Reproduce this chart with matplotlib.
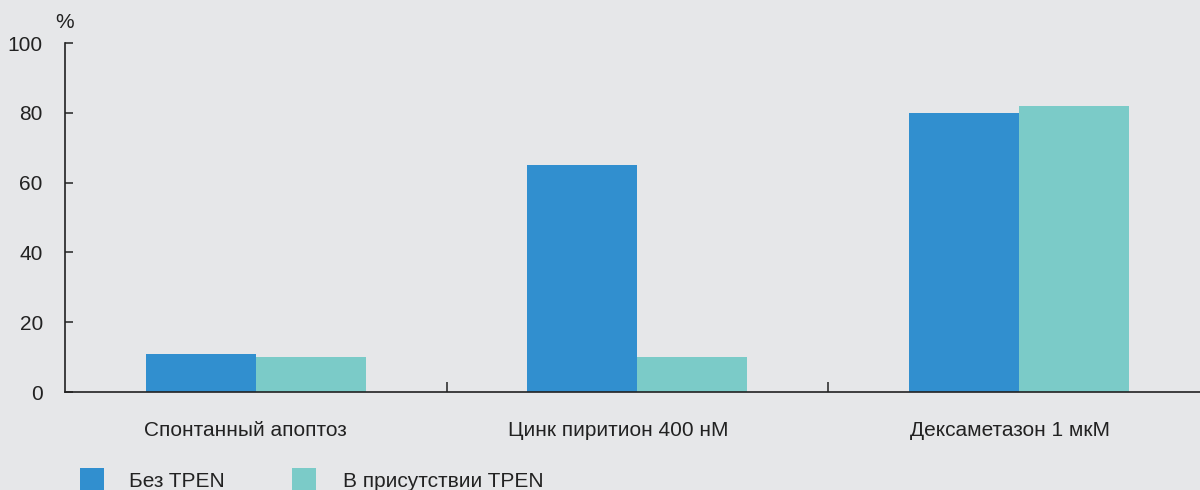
import matplotlib
matplotlib.use("Agg")
import matplotlib.pyplot as plt
from matplotlib.patches import Rectangle
from matplotlib.transforms import ScaledTranslation
import numpy as np

categories = ["Спонтанный апоптоз", "Цинк пиритион 400 нМ", "Дексаметазон 1 мкМ"]
series_names = ["Без TPEN", "В присутствии TPEN"]
without_tpen = [11, 65, 80]
with_tpen = [10, 10, 82]
y_ticks = [0, 20, 40, 60, 80, 100]

BG = "#e6e7e9"
INK = "#222222"
colors = ["#318fcf", "#7bcbc8"]

plt.rcParams["font.family"] = ["Liberation Sans", "DejaVu Sans"]

fig = plt.figure(figsize=(12, 4.9), dpi=100, facecolor=BG)
ax = fig.add_axes([65 / 1200, 1 - 392 / 490, 1 - 65 / 1200, 349 / 490])
ax.set_facecolor(BG)

n = len(categories)
centers = np.arange(n) + 0.5
bw = 0.288
ax.bar(centers - bw / 2, without_tpen, width=bw, color=colors[0], label=series_names[0], zorder=2)
ax.bar(centers + bw / 2, with_tpen, width=bw, color=colors[1], label=series_names[1], zorder=2)

ax.set_xlim(0, (1200 - 65) / 381.5)
ax.set_ylim(0, 100)

for side in ("top", "right"):
    ax.spines[side].set_visible(False)
for side in ("left", "bottom"):
    ax.spines[side].set_color(INK)
    ax.spines[side].set_linewidth(1.2)

ax.set_yticks(y_ticks)
ax.tick_params(axis="y", direction="in", length=6, width=1.1, color=INK,
               labelsize=15, labelcolor=INK, pad=16)

# group separators as short inward ticks
ax.set_xticks(np.arange(1, n))
ax.set_xticklabels([])
ax.tick_params(axis="x", which="major", direction="in", length=7, width=1.1, color=INK)

# category names, right-aligned a fixed distance before each group's right edge
shift = ScaledTranslation(-1.0, -0.44, fig.dpi_scale_trans)
for i, name in enumerate(categories):
    ax.text(i + 1, 0, name, transform=ax.get_xaxis_transform() + shift,
            ha="right", va="baseline", fontsize=15, color=INK)

fig.text(65 / 1200, 1 - 23 / 490, "%", ha="center", va="center", fontsize=15, color=INK)

# legend
sq_w, sq_h = 24 / 1200, 24 / 490
leg_x = [80 / 1200, 292 / 1200]
txt_x = [129 / 1200, 343 / 1200]
for i, name in enumerate(series_names):
    fig.add_artist(Rectangle((leg_x[i], 1 - 492 / 490), sq_w, sq_h,
                             transform=fig.transFigure, color=colors[i], lw=0))
    fig.text(txt_x[i], 1 - 487 / 490, name, ha="left", va="baseline",
             fontsize=15, color=INK)

fig.savefig("out.png", dpi=100, facecolor=BG)
